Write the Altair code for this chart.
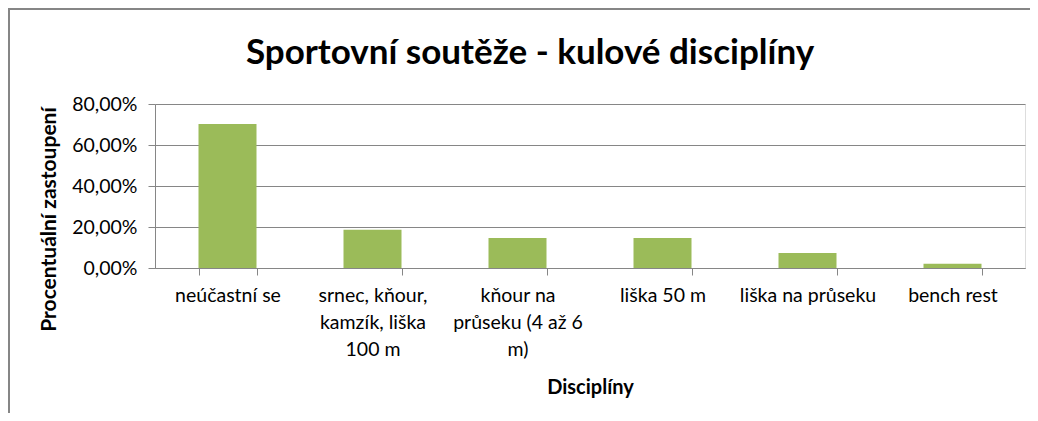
import altair as alt
import pandas as pd

categories = [
    "neúčastní se",
    "srnec, kňour,|kamzík, liška|100 m",
    "kňour na|průseku (4 až 6|m)",
    "liška 50 m",
    "liška na průseku",
    "bench rest",
]
values = [0.702, 0.187, 0.146, 0.146, 0.073, 0.021]
y_ticks = [0.0, 0.2, 0.4, 0.6, 0.8]
title_text = "Sportovní soutěže - kulové disciplíny"

df = pd.DataFrame({"kategorie": categories, "podil": values})

FONT = "Lato"
GRID = "#868686"
TEXT = "#000000"

bars = alt.Chart(df).mark_bar(color="#9BBB59").encode(
    x=alt.X(
        "kategorie:N",
        sort=categories,
        scale=alt.Scale(paddingInner=0.6, paddingOuter=0.3),
        axis=alt.Axis(
            title="Disciplíny",
            labelAngle=0,
            labelExpr="split(datum.label, '|')",
            labelFont=FONT,
            labelFontSize=19.5,
            labelColor=TEXT,
            labelLineHeight=27,
            labelPadding=11,
            labelBaseline="top",
            labelLimit=220,
            tickBand="extent",
            tickSize=7,
            tickColor=GRID,
            domainColor=GRID,
            grid=False,
            titleFont=FONT,
            titleFontSize=20,
            titleFontWeight="bold",
            titleColor=TEXT,
            titleY=119,
            titleBaseline="middle",
        ),
    ),
    y=alt.Y(
        "podil:Q",
        scale=alt.Scale(domain=[0, 0.8], nice=False),
        axis=alt.Axis(
            title="Procentuální zastoupení",
            values=y_ticks,
            labelExpr="replace(format(datum.value, '.2%'), '.', ',')",
            labelFont=FONT,
            labelFontSize=19.5,
            labelColor=TEXT,
            labelPadding=11,
            tickSize=7,
            tickColor=GRID,
            domainColor=GRID,
            gridColor=GRID,
            gridWidth=1,
            titleFont=FONT,
            titleFontSize=21,
            titleFontWeight="bold",
            titleColor=TEXT,
            titleX=-106,
            titleY=115,
            titleAlign="center",
            titleBaseline="middle",
            titleAngle=270,
        ),
    ),
)

one = alt.Data(values=[{"a": 1}])
frame_left = alt.Chart(one).mark_rule(color=GRID, strokeWidth=2).encode(
    x=alt.value(-146), y=alt.value(-95), y2=alt.value(330)
)
frame_top = alt.Chart(one).mark_rule(color=GRID, strokeWidth=2).encode(
    x=alt.value(-147), x2=alt.value(900), y=alt.value(-95)
)
title = alt.Chart(one).mark_text(
    text=title_text,
    font=FONT,
    fontSize=35,
    fontWeight="bold",
    color=TEXT,
    align="center",
    baseline="alphabetic",
).encode(x=alt.value(375), y=alt.value(-40))

chart = (
    alt.layer(bars, frame_left, frame_top, title)
    .properties(
        width=870,
        height=164,
        autosize=alt.AutoSizeParams(type="none"),
        padding={"left": 147, "top": 96, "right": 5, "bottom": 145},
    )
    .configure_view(stroke=None)
    .configure(background="white")
)

chart.save("out.html", embed_options={"renderer": "svg", "actions": False})
